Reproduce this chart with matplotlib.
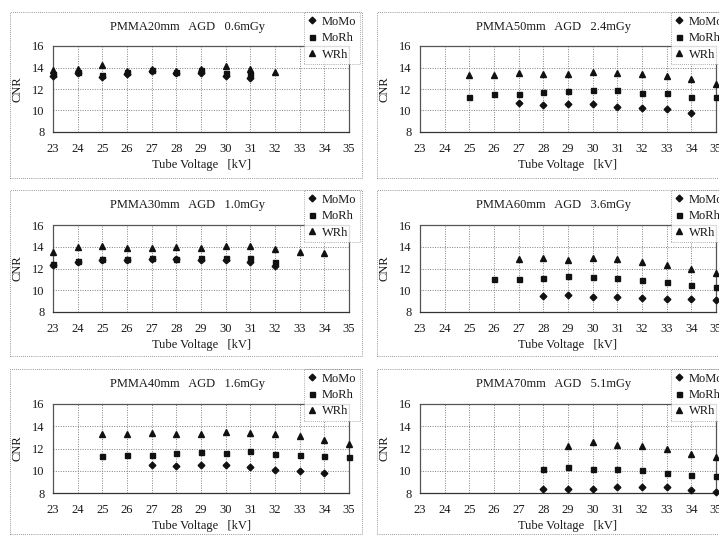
import numpy as np
import matplotlib
matplotlib.use("Agg")
import matplotlib.pyplot as plt
from matplotlib.patches import Rectangle

nan = np.nan
voltages = list(range(23, 36))
series_names = ["MoMo", "MoRh", "WRh"]

# PMMA 20 mm
mm20_momo = [13.2, 13.5, 13.1, 13.4, 13.7, 13.5, 13.5, 13.2, 13.0, nan, nan, nan, nan]
mm20_morh = [13.4, 13.6, 13.3, 13.6, 13.8, 13.6, 13.8, 13.5, 13.4, nan, nan, nan, nan]
mm20_wrh = [13.8, 13.9, 14.2, 13.7, 13.9, 13.7, 13.9, 14.1, 13.9, 13.6, nan, nan, nan]
# PMMA 30 mm
mm30_momo = [12.3, 12.6, 12.8, 12.8, 12.9, 12.9, 12.8, 12.8, 12.6, 12.2, nan, nan, nan]
mm30_morh = [12.4, 12.7, 12.9, 12.9, 13.0, 12.9, 13.0, 13.0, 13.0, 12.6, nan, nan, nan]
mm30_wrh = [13.5, 14.0, 14.1, 13.9, 13.9, 14.0, 13.9, 14.1, 14.1, 13.8, 13.5, 13.4, nan]
# PMMA 40 mm
mm40_momo = [nan, nan, nan, nan, 10.5, 10.4, 10.5, 10.5, 10.3, 10.1, 10.0, 9.8, nan]
mm40_morh = [nan, nan, 11.3, 11.4, 11.4, 11.6, 11.7, 11.6, 11.8, 11.5, 11.4, 11.3, 11.2]
mm40_wrh = [nan, nan, 13.3, 13.3, 13.4, 13.3, 13.3, 13.5, 13.4, 13.3, 13.1, 12.8, 12.4]
# PMMA 50 mm
mm50_momo = [nan, nan, nan, nan, 10.7, 10.5, 10.6, 10.6, 10.3, 10.2, 10.1, 9.8, nan]
mm50_morh = [nan, nan, 11.3, 11.5, 11.5, 11.7, 11.8, 11.9, 11.9, 11.6, 11.6, 11.3, 11.3]
mm50_wrh = [nan, nan, 13.3, 13.3, 13.5, 13.4, 13.4, 13.6, 13.5, 13.4, 13.2, 12.9, 12.5]
# PMMA 60 mm
mm60_momo = [nan, nan, nan, nan, nan, 9.5, 9.6, 9.4, 9.4, 9.3, 9.2, 9.2, 9.1]
mm60_morh = [nan, nan, nan, 11.0, 11.0, 11.1, 11.3, 11.2, 11.1, 10.9, 10.8, 10.5, 10.3]
mm60_wrh = [nan, nan, nan, nan, 12.9, 13.0, 12.8, 13.0, 12.9, 12.6, 12.3, 12.0, 11.6]
# PMMA 70 mm
mm70_momo = [nan, nan, nan, nan, nan, 8.4, 8.4, 8.4, 8.5, 8.5, 8.5, 8.3, 8.1]
mm70_morh = [nan, nan, nan, nan, nan, 10.2, 10.3, 10.2, 10.2, 10.1, 9.8, 9.6, 9.5]
mm70_wrh = [nan, nan, nan, nan, nan, nan, 12.2, 12.6, 12.3, 12.2, 12.0, 11.5, 11.2]

titles = ["PMMA20mm   AGD   0.6mGy", "PMMA50mm   AGD   2.4mGy",
          "PMMA30mm   AGD   1.0mGy", "PMMA60mm   AGD   3.6mGy",
          "PMMA40mm   AGD   1.6mGy", "PMMA70mm   AGD   5.1mGy"]
panel_data = [
    (mm20_momo, mm20_morh, mm20_wrh), (mm50_momo, mm50_morh, mm50_wrh),
    (mm30_momo, mm30_morh, mm30_wrh), (mm60_momo, mm60_morh, mm60_wrh),
    (mm40_momo, mm40_morh, mm40_wrh), (mm70_momo, mm70_morh, mm70_wrh),
]
yticks = [8, 10, 12, 14, 16]

W, H = 719, 536
fig = plt.figure(figsize=(W / 100, H / 100), dpi=100)
plt.rcParams['font.family'] = ['Liberation Serif', 'DejaVu Serif']

FS = 9
TFS = 9
txt_col = "#1a1a1a"
markers = ["D", "s", "^"]
msizes = [3.4, 3.6, 4.2]

box_x0 = [10, 377]
box_w = 352
row_box = [(12, 178), (190, 356), (369, 534)]
row_plot = [(46, 132), (225, 312), (404, 493)]
plot_dx = 43
plot_w = 296


def fx(px):
    return px / W


def fy(py):
    return 1 - py / H


for i in range(6):
    r, c = divmod(i, 2)
    bx = box_x0[c]
    by0, by1 = row_box[r]
    py0, py1 = row_plot[r]
    # outer dotted box
    fig.patches.append(Rectangle((fx(bx), fy(by1)), box_w / W, (by1 - by0) / H,
                                 transform=fig.transFigure, fill=False,
                                 ls=(0, (1, 1.5)), lw=0.6, ec="#777777"))
    ax = fig.add_axes([fx(bx + plot_dx), fy(py1), plot_w / W, (py1 - py0) / H])
    ax.set_xlim(23, 35)
    ax.set_ylim(8, 16)
    ax.set_xticks(voltages)
    ax.set_yticks(yticks)
    ax.grid(True, ls=(0, (1, 1.5)), lw=0.7, color="#808080")
    for s in ax.spines.values():
        s.set_linestyle((0, (1, 1)))
        s.set_linewidth(0.9)
        s.set_color("#555555")
    ax.spines["bottom"].set_linestyle("-")
    ax.spines["bottom"].set_color("#333333")
    ax.tick_params(axis="x", length=0, labelsize=FS, colors=txt_col, pad=8)
    ax.tick_params(axis="y", length=0, labelsize=FS, colors=txt_col, pad=6)
    ax.set_ylabel("CNR", fontsize=FS, color=txt_col, labelpad=6)
    ax.set_xlabel("Tube Voltage   [kV]", fontsize=FS, color=txt_col, labelpad=3)
    handles = []
    for vals, m, ms, name in zip(panel_data[i], markers, msizes, series_names):
        h, = ax.plot(voltages, vals, ls="none", marker=m, ms=ms, color="#111111",
                     clip_on=False, label=name, zorder=3)
        handles.append(h)
    fig.text(fx(bx + 177), fy(by0 + 15), titles[i], fontsize=TFS, color=txt_col,
             ha="center", va="center")
    leg = ax.legend(handles=handles, loc="upper left",
                    bbox_to_anchor=(fx(bx + 294), fy(by0)),
                    bbox_transform=fig.transFigure, fontsize=FS,
                    frameon=True, fancybox=False, handlelength=0.7,
                    handletextpad=0.4, borderpad=0.3, labelspacing=0.35,
                    borderaxespad=0)
    leg.get_frame().set_edgecolor("#777777")
    leg.get_frame().set_linestyle((0, (1, 1.5)))
    leg.get_frame().set_linewidth(0.6)
    leg.set_zorder(10)
    for t in leg.get_texts():
        t.set_color(txt_col)

fig.savefig("out.png", dpi=100)
